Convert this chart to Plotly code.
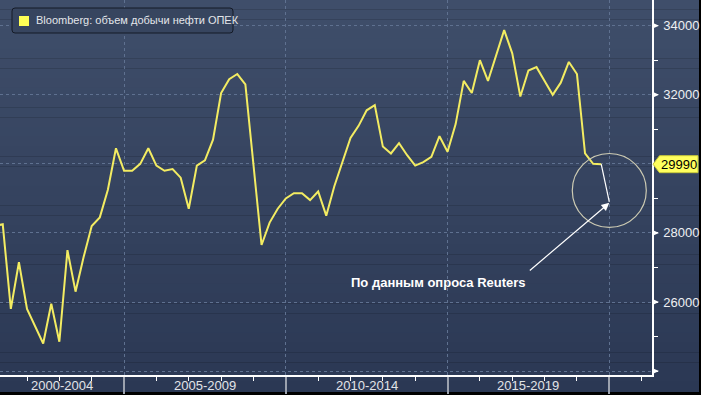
import plotly.graph_objects as go

# ---------------- data ----------------
start_year = 2001
values = [
    28200, 28250, 25800, 27150,   # 2001
    25800, 25300, 24800, 25950,   # 2002
    24850, 27500, 26300, 27300,   # 2003
    28200, 28450, 29250, 30450,   # 2004
    29800, 29800, 30000, 30450,   # 2005
    29950, 29800, 29850, 29600,   # 2006
    28700, 29950, 30100, 30700,   # 2007
    32050, 32450, 32600, 32300,   # 2008
    30000, 27650, 28300, 28700,   # 2009
    29000, 29150, 29150, 28950,   # 2010
    29200, 28500, 29350, 30050,   # 2011
    30750, 31100, 31550, 31700,   # 2012
    30500, 30300, 30600, 30250,   # 2013
    29950, 30050, 30200, 30800,   # 2014
    30350, 31150, 32400, 32050,   # 2015
    33000, 32400, 33150, 33870,   # 2016
    33200, 31950, 32700, 32800,   # 2017
    32400, 32000, 32350, 32950,   # 2018
    32600, 30300, 30000, 29990,   # 2019
]
quarters = [f"{start_year + i // 4}Q{i % 4 + 1}" for i in range(len(values))]
reuters_quarter = "2020Q1"
reuters_value = 28900

series_name = "Bloomberg: объем добычи нефти ОПЕК"
annotation_text = "По данным опроса Reuters"
period_labels = ["2000-2004", "2005-2009", "2010-2014", "2015-2019"]
period_starts = [2000, 2005, 2010, 2015]
y_tickvals = [24000, 26000, 28000, 30000, 32000, 34000]
y_ticktext = ["", "26000", "28000", "", "32000", "34000"]


def qpos(q):
    y, n = q.split("Q")
    return int(y) + (int(n) - 1) / 4


xs = [qpos(q) for q in quarters]
rx = qpos(reuters_quarter)

# ---------------- geometry / style ----------------
W, H = 701, 395
ML, MR, MT, MB = 0, 49, 0, 20
PW, PH = W - ML - MR, H - MT - MB
x_range = [2001.165, 2021.32]
y_range = [23887, 34743]

FONT = "Liberation Sans, Arial, sans-serif"
LINE_YELLOW = "#f3ec62"
GRID = "#5f7190"

fig = go.Figure()

fig.add_trace(go.Scatter(
    x=xs, y=values, mode="lines", name=series_name,
    line=dict(color=LINE_YELLOW, width=2), showlegend=False,
    hoverinfo="x+y",
))
fig.add_trace(go.Scatter(
    x=[xs[-1], rx], y=[values[-1], reuters_value], mode="lines",
    line=dict(color="white", width=1.2), showlegend=False, hoverinfo="skip",
))

shapes = []
# gradient background bands (plot area + label strip)
top_c = (63, 78, 106)
bot_c = (43, 56, 84)
n_b = 40
y_bottom_paper = 1 - 392 / PH
x_right_paper = 699 / PW
for i in range(n_b):
    t0 = i / n_b
    t1 = (i + 1) / n_b
    c = tuple(round(top_c[k] + (bot_c[k] - top_c[k]) * (t0 + t1) / 2) for k in range(3))
    ya = 1 - t0 * (1 - y_bottom_paper)
    yb = 1 - t1 * (1 - y_bottom_paper)
    shapes.append(dict(type="rect", xref="paper", yref="paper", x0=0, x1=x_right_paper,
                       y0=yb, y1=ya + 0.001, fillcolor=f"rgb{c}", line=dict(width=0),
                       layer="below"))

# right-axis triangle tick marks
for v, t in zip(y_tickvals, y_ticktext):
    if v == 30000:
        continue
    shapes.append(dict(type="path", xref="paper", xsizemode="pixel", xanchor=1,
                       yref="y", ysizemode="pixel", yanchor=v,
                       path="M0,3.2 L7,0 L0,-3.2 Z", fillcolor="white",
                       line=dict(width=0), layer="above"))

# last-value yellow tag
shapes.append(dict(type="path", xref="paper", xsizemode="pixel", xanchor=1,
                   yref="y", ysizemode="pixel", yanchor=values[-1],
                   path="M1,0 L7.5,8.5 L46,8.5 L46,-8.5 L7.5,-8.5 Z",
                   fillcolor="#ffff5e", line=dict(color="#c9c93a", width=1), layer="above"))

# circle highlighting the last readings
shapes.append(dict(type="circle", xref="x", yref="y",
                   x0=2018.856, x1=2021.144, y0=28160, y1=30300,
                   line=dict(color="#cdcbb3", width=1.2)))

# legend box (manual)
lx0, lx1, ly0, ly1, r = 12, 233, 8, 33, 3
legend_path = (f"M{lx0 + r},{-ly0} L{lx1 - r},{-ly0} Q{lx1},{-ly0} {lx1},{-ly0 - r} "
               f"L{lx1},{-ly1 + r} Q{lx1},{-ly1} {lx1 - r},{-ly1} "
               f"L{lx0 + r},{-ly1} Q{lx0},{-ly1} {lx0},{-ly1 + r} "
               f"L{lx0},{-ly0 - r} Q{lx0},{-ly0} {lx0 + r},{-ly0} Z")
shapes.append(dict(type="path", xref="paper", xsizemode="pixel", xanchor=0,
                   yref="paper", ysizemode="pixel", yanchor=1, path=legend_path,
                   fillcolor="#37455f", line=dict(color="#141a26", width=1), layer="above"))
shapes.append(dict(type="path", xref="paper", xsizemode="pixel", xanchor=0,
                   yref="paper", ysizemode="pixel", yanchor=1,
                   path="M19,-16 L29,-16 L29,-26 L19,-26 Z",
                   fillcolor="#ffff55", line=dict(width=0), layer="above"))

annotations = []
annotations.append(dict(xref="paper", yref="paper", x=34 / PW, y=1 - 20.5 / PH,
                        xanchor="left", yanchor="middle", showarrow=False,
                        text=series_name, font=dict(family=FONT, size=11, color="#e4e6ea")))
# last value text
annotations.append(dict(xref="paper", yref="y", x=1, y=values[-1], xanchor="left",
                        yanchor="middle", xshift=7, showarrow=False,
                        text=str(values[-1]), font=dict(family=FONT, size=13, color="black")))
# period labels on the x axis
for lab, s in zip(period_labels, period_starts):
    a = max(s, x_range[0])
    b = min(s + 5, x_range[1])
    annotations.append(dict(xref="x", yref="paper", x=(a + b) / 2, y=1 - 385.5 / PH,
                            xanchor="center", yanchor="middle", showarrow=False,
                            text=lab, font=dict(family=FONT, size=13, color="#e2e4e8")))
# arrow and its caption
annotations.append(dict(xref="x", yref="y", x=rx, y=reuters_value - 30,
                        axref="x", ayref="y", ax=2017.496, ay=26877, text="",
                        showarrow=True, arrowhead=2, arrowsize=1.3, arrowwidth=1.2,
                        arrowcolor="white", standoff=0))
annotations.append(dict(xref="x", yref="y", x=2014.713, y=26551, showarrow=False,
                        xanchor="center", yanchor="middle",
                        text=f"<b>{annotation_text}</b>",
                        font=dict(family=FONT, size=13, color="white")))

fig.update_layout(
    width=W, height=H,
    margin=dict(l=ML, r=MR, t=MT, b=MB, pad=0),
    paper_bgcolor="black",
    plot_bgcolor="rgba(0,0,0,0)",
    showlegend=False,
    shapes=shapes,
    annotations=annotations,
    xaxis=dict(
        range=x_range, tick0=2000, dtick=5, showticklabels=False,
        showgrid=True, gridcolor=GRID, griddash="dot", gridwidth=1,
        ticks="outside", ticklen=17, tickcolor="#9ca2ae", tickwidth=1.5,
        showline=True, linecolor="white", linewidth=1.5,
        zeroline=False, fixedrange=True,
        minor=dict(dtick=1, tick0=2000, ticks="outside", ticklen=4,
                   tickcolor="white", tickwidth=1, showgrid=False),
    ),
    yaxis=dict(
        range=y_range, side="right", tickmode="array",
        tickvals=y_tickvals, ticktext=y_ticktext,
        showgrid=True, gridcolor=GRID, griddash="dot", gridwidth=1,
        ticks="outside", ticklen=7, tickcolor="rgba(0,0,0,0)",
        tickfont=dict(family=FONT, size=13, color="#eef0f3"),
        showline=True, linecolor="white", linewidth=1.5,
        zeroline=False, fixedrange=True,
        minor=dict(dtick=1000, tick0=0, ticks="outside", ticklen=4,
                   tickcolor="white", tickwidth=1, showgrid=False),
    ),
)

fig.write_html(
    "out.html",
    config={"displayModeBar": False},
    post_script="document.body.style.margin='0';document.body.style.padding='0';"
                "document.body.style.overflow='hidden';",
)
